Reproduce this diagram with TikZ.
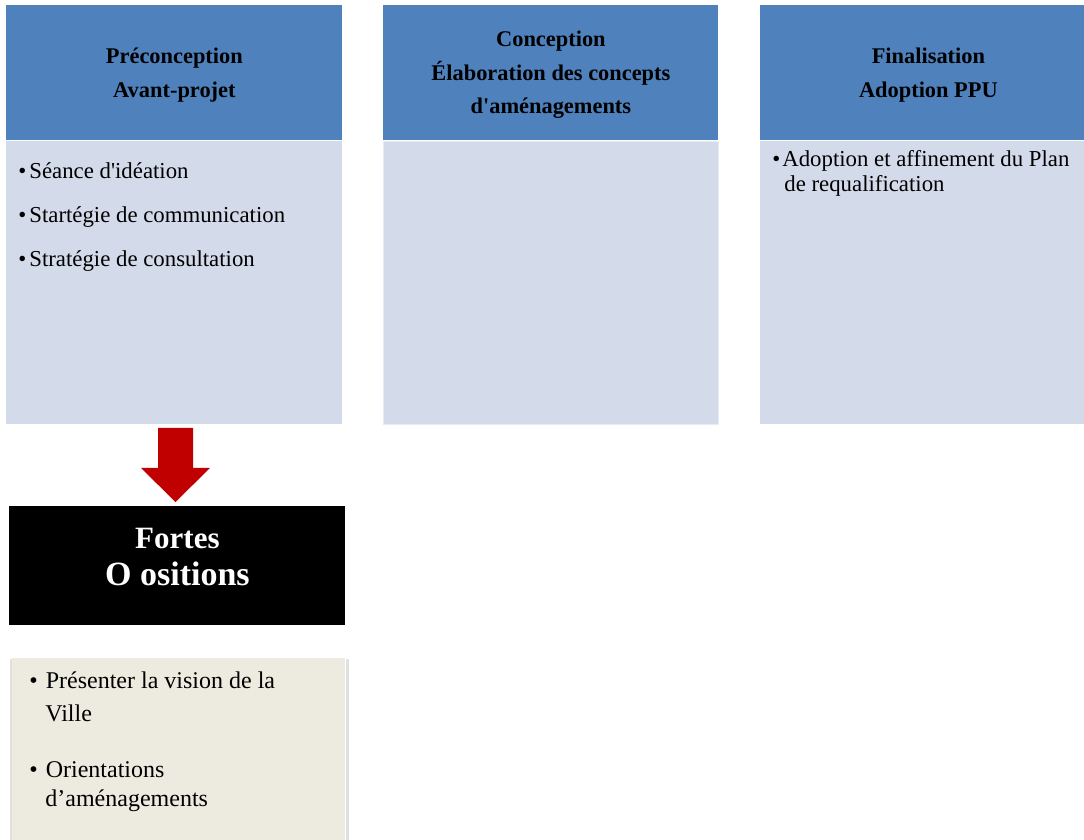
\documentclass[tikz,border=0pt]{standalone}
\usepackage{fontspec}
\setmainfont{Liberation Serif}
\usepackage{tikz}
\usetikzlibrary{positioning,calc}
\definecolor{hdblue}{HTML}{4F81BD}
\definecolor{bdblue}{HTML}{D3DBEA}
\definecolor{visbeige}{HTML}{EDEBE0}
\definecolor{arred}{HTML}{C00000}

\begin{document}
\begin{tikzpicture}[x=0.5pt,y=-0.5pt,
  head/.style={fill=hdblue, anchor=north west, inner sep=0pt, minimum width=168pt, minimum height=67.5pt, align=center, font=\bfseries\fontsize{11.2}{16.8}\selectfont},
  body/.style={fill=bdblue, anchor=north west, inner sep=0pt, minimum width=168pt, minimum height=141.5pt},
  item/.style={anchor=base west, inner sep=0pt, font=\fontsize{11.4}{13}\selectfont},
  bigitem/.style={anchor=base west, inner sep=0pt, font=\fontsize{12}{14}\selectfont}]
\useasboundingbox (0,0) rectangle (1084,840);

% les trois phases
\node[head] (h1) at (6,5) {\rule{0pt}{9.7pt}Préconception\\Avant-projet};
\node[head, minimum width=167.5pt] (h2) at (383,5) {\rule{0pt}{9.7pt}Conception\\Élaboration des concepts\\d\textquotesingle aménagements};
\node[head] (h3) at (760,5) {\rule{0pt}{9.7pt}Finalisation\\Adoption PPU};
\node[body] (b1) at (h1.south west) {};
\node[body, minimum width=167.5pt, draw=white!45!bdblue, line width=0.6pt] (b2) at (h2.south west) {};
\node[body] (b3) at (h3.south west) {};

\foreach \t [count=\i from 0] in {Séance d\textquotesingle idéation, Startégie de communication, Stratégie de consultation}
  \node[item] (pre\i) at (18,{179+44*\i}) {•\kern1.5pt\t};
\node[item] (fin1) at (772,167) {•\kern1pt Adoption et affinement du Plan};
\node[item] (fin2) at (784,192) {de requalification};

% fleche vers le bloc noir
\coordinate (at) at (175.5,428);
\coordinate (ab) at (175.5,502);
\fill[arred] ($(at)+(-17.5,0)$) -- ($(at)+(17.5,0)$) -- ($(at)+(17.5,40)$) -- ($(at)+(34.5,40)$) -- (ab)
  -- ($(at)+(-34.5,40)$) -- ($(at)+(-17.5,40)$) -- cycle;

\node[fill=black, anchor=north west, inner sep=0pt, minimum width=168pt, minimum height=59.5pt] (opp) at (9,506) {};
\node[text=white, align=center, inner sep=0pt, font=\bfseries\fontsize{15.5}{18.5}\selectfont] (oppt) at ($(opp.center)+(0,-9)$) {Fortes\\{\fontsize{17}{18.5}\selectfont O ositions}};

% vision
\node[fill=visbeige, anchor=north west, inner sep=0pt, minimum width=166.5pt, minimum height=100pt] (vis) at (12,658) {};
\fill[black!12] ($(vis.north west)+(-2,1)$) rectangle (vis.south west);
\fill[black!12] ($(vis.north east)+(0,1)$) rectangle ($(vis.south east)+(3,0)$);
\node[bigitem] (vis1) at (29,689) {•\kern4pt Présenter la vision de la};
\node[bigitem] (vis2) at (45,721) {Ville};
\node[bigitem] (vis3) at (29,777) {•\kern4pt Orientations};
\node[bigitem] (vis4) at (45,806) {d’aménagements};
\end{tikzpicture}
\end{document}
